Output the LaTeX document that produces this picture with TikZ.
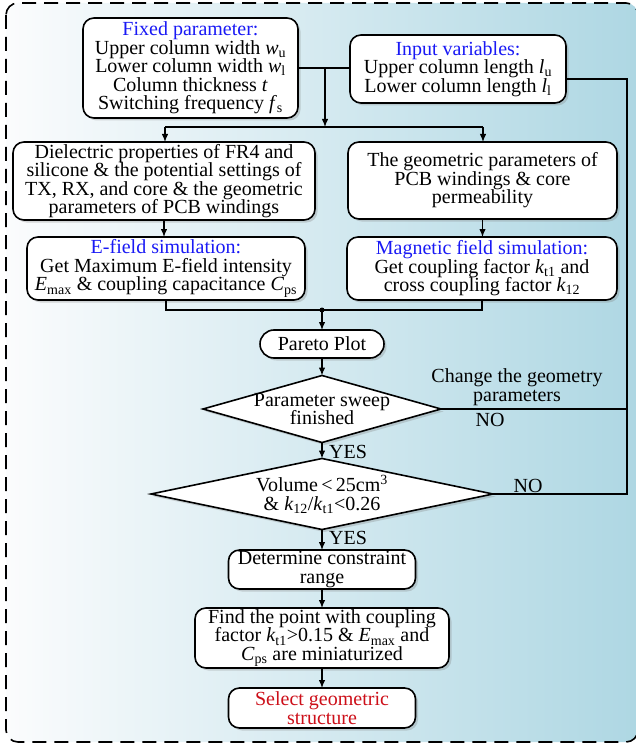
\documentclass[tikz,border=0pt]{standalone}
\usepackage{fontspec}
\setmainfont{Liberation Serif}
\usetikzlibrary{arrows.meta,shapes.geometric,shadows}
\definecolor{tblue}{RGB}{25,25,245}
\definecolor{tred}{RGB}{205,15,25}
\definecolor{bgL}{RGB}{251,252,253}
\definecolor{bgM}{RGB}{228,239,243}
\definecolor{bgR}{RGB}{174,215,227}
\begin{document}
\begin{tikzpicture}[x=1pt,y=-1pt,
  font=\fontsize{20}{18.5}\selectfont,
  shd/.style={drop shadow={shadow xshift=2.5pt,shadow yshift=-2.5pt,opacity=0.3}},
  box/.style={draw,line width=1.6pt,rounded corners=11pt,fill=white,align=center,
    inner sep=0pt,outer sep=0pt,shd},
  dec/.style={draw,shape=diamond,line width=1.6pt,fill=white,inner sep=0pt,outer sep=0pt,shd},
  conn/.style={line width=1.2pt},
  arr/.style={conn,-{Latex[length=8pt,width=6.5pt]}},
  lbl/.style={align=center,inner sep=0pt}]
\useasboundingbox (0,0) rectangle (636,746);
% background and frame
\shade[left color=bgL,middle color=bgM,right color=bgR,rounded corners=12pt] (6,3) rectangle (638,742);
\draw[line width=1.6pt,dash pattern=on 14pt off 8pt,rounded corners=12pt] (6,3) rectangle (638,742);
% boxes
\node[box,minimum width=215pt,minimum height=100pt] (fixed) at (190.5,68)
  {\textcolor{tblue}{Fixed parameter:}\\Upper column width \textit{w}\textsubscript{u}\\Lower column width \textit{w}\textsubscript{l}\\Column thickness \textit{t}\\Switching frequency \textit{f}\textsubscript{s}};
\node[box,minimum width=216pt,minimum height=68pt] (input) at (458,69)
  {\textcolor{tblue}{Input variables:}\\Upper column length \textit{l}\textsubscript{u}\\Lower column length \textit{l}\textsubscript{l}};
\node[box,minimum width=302pt,minimum height=78pt] (diel) at (164,181)
  {Dielectric properties of FR4 and\\silicone \& the potential settings of\\TX, RX, and core \& the geometric\\parameters of PCB windings};
\node[box,minimum width=269pt,minimum height=77pt] (geo) at (482.5,180.5)
  {The geometric parameters of\\PCB windings \& core\\permeability};
\node[box,minimum width=278pt,minimum height=63pt] (efield) at (166,268.5)
  {\textcolor{tblue}{E-field simulation:}\\Get Maximum E-field intensity\\\textit{E}\textsubscript{max} \& coupling capacitance \textit{C}\textsubscript{ps}};
\node[box,minimum width=270pt,minimum height=63pt] (mag) at (482,268.5)
  {\textcolor{tblue}{Magnetic field simulation:}\\Get coupling factor \textit{k}\textsubscript{t1} and\\cross coupling factor \textit{k}\textsubscript{12}};
\node[box,rounded corners=14pt,minimum width=124pt,minimum height=28pt] (pareto) at (322,344) {Pareto Plot};
\node[dec,minimum width=238pt,minimum height=67pt] (dec1) at (322,409) {};
\node[lbl] (d1t) at (dec1) {Parameter sweep\\finished};
\node[dec,minimum width=342pt,minimum height=71pt] (dec2) at (322,494) {};
\node[lbl] (d2t) at (dec2) {Volume\,<\,25cm\textsuperscript{3}\\\& \textit{k}\textsubscript{12}/\textit{k}\textsubscript{t1}<0.26};
\node[box,minimum width=187pt,minimum height=39pt] (det) at (322,569.5) {Determine constraint\\range};
\node[box,minimum width=254pt,minimum height=60pt] (find) at (322,638)
  {Find the point with coupling\\factor \textit{k}\textsubscript{t1}>0.15 \& \textit{E}\textsubscript{max} and\\\textit{C}\textsubscript{ps} are miniaturized};
\node[box,text=tred,minimum width=187pt,minimum height=40pt] (sel) at (322,708) {Select geometric\\structure};
% labels
\node[lbl] (chg) at (517,387) {Change the geometry\\parameters};
\node[lbl] (no1) at (490,420) {NO};
\node[lbl] (no2) at (528,486) {NO};
\node[lbl,anchor=west] (yes1) at (329,452) {YES};
\node[lbl,anchor=west] (yes2) at (329,538) {YES};
% connectors
\coordinate (j1) at (325,68);
\coordinate (barL) at (165,127);
\coordinate (barR) at (483,127);
\draw[conn] (fixed.east) -- (fixed.east -| input.west);
\draw[arr] (j1) -- (j1 |- barL);
\draw[conn] (barL) -- (barR);
\draw[arr] (barL) -- (barL |- diel.north);
\draw[arr] (barR) -- (barR |- geo.north);
\draw[arr] (diel.south) -- (diel.south |- efield.north);
\draw[arr] (geo.south) -- (geo.south |- mag.north);
\coordinate (j2) at (322,310);
\draw[conn] (efield.south) -- (efield.south |- j2) -- (mag.south |- j2) -- (mag.south);
\fill (j2) circle (2.5pt);
\draw[arr] (j2) -- (pareto.north);
\draw[arr] (pareto.south) -- (dec1.north);
\draw[arr] (dec1.south) -- (dec2.north);
\draw[arr] (dec2.south) -- (det.north);
\draw[arr] (det.south) -- (find.north);
\draw[arr] (find.south) -- (sel.north);
\coordinate (r1) at (627,79);
\draw[conn] (input.east |- r1) -- (r1) -- (r1 |- dec2.east) -- (dec2.east);
\draw[conn] (r1 |- dec1.east) -- (dec1.east);
\end{tikzpicture}
\end{document}
